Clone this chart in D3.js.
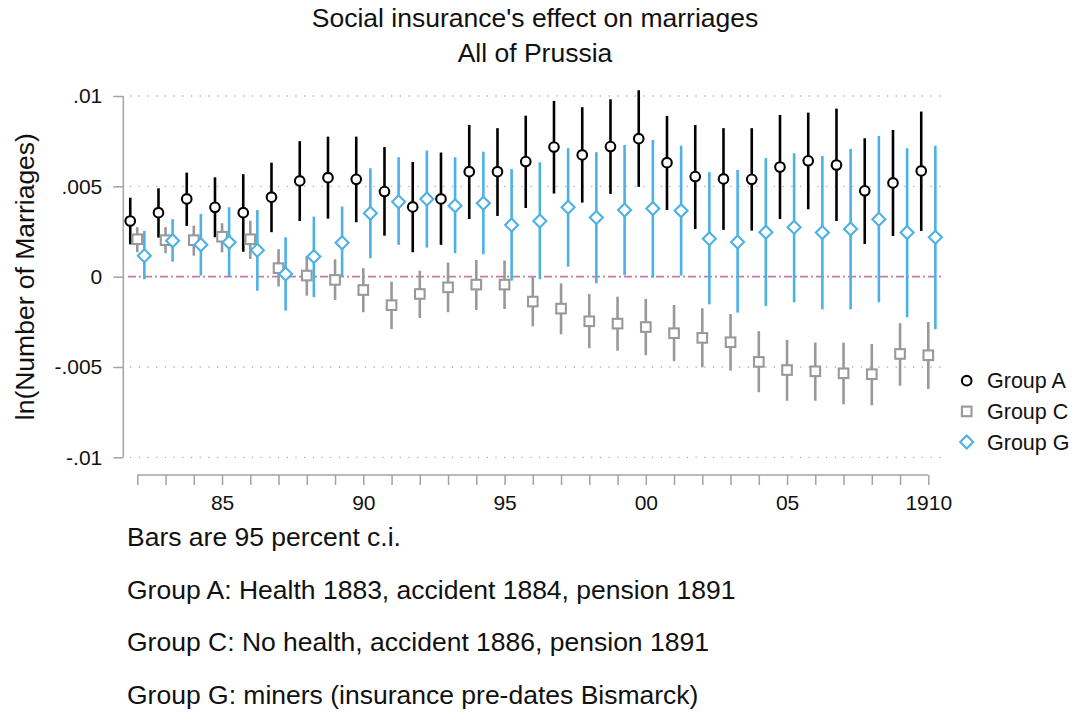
<!DOCTYPE html>
<html>
<head>
<meta charset="utf-8">
<script src="https://cdn.jsdelivr.net/npm/d3@7"></script>
<style>
  body { margin: 0; background: #fff; }
  svg { font-family: "Liberation Sans", Arial, sans-serif; }
</style>
</head>
<body>
<div id="chart"></div>
<script>
// years and estimates (in units of 0.001)
const years = d3.range(1882, 1911);

const groupA = [3.08, 3.54, 4.30, 3.84, 3.54, 4.40, 5.30, 5.48, 5.39, 4.71, 3.86, 4.30, 5.81, 5.81, 6.37,
    7.17, 6.74, 7.20, 7.64, 6.31, 5.54, 5.41, 5.39, 6.07, 6.41, 6.18, 4.75, 5.19, 5.85];
const groupA_lo = [1.79, 2.16, 2.81, 2.18, 1.38, 2.46, 3.08, 3.21, 3.01, 2.27, 1.35, 1.76, 3.19, 3.36, 3.80,
    4.60, 4.10, 4.58, 4.97, 3.69, 2.64, 2.59, 2.55, 3.19, 3.73, 3.08, 1.81, 2.25, 2.53];
const groupA_hi = [4.37, 4.89, 5.76, 5.50, 5.67, 6.31, 7.50, 7.75, 7.75, 7.17, 6.35, 6.87, 8.40, 8.22, 8.91,
    9.73, 9.38, 9.82, 10.32, 8.90, 8.40, 8.22, 8.22, 8.95, 9.08, 9.30, 7.66, 8.12, 9.14];

const groupC = [2.07, 2.02, 2.02, 2.21, 2.07, 0.47, 0.06, -0.18, -0.74, -1.58, -0.96, -0.59, -0.44, -0.44, -1.38,
    -1.77, -2.47, -2.60, -2.79, -3.13, -3.39, -3.63, -4.72, -5.17, -5.24, -5.35, -5.40, -4.28, -4.35];
const groupC_lo = [1.35, 1.30, 1.16, 1.35, 0.98, -0.55, -1.05, -1.29, -1.97, -2.90, -2.29, -1.97, -1.84, -1.79, -2.75,
    -3.19, -3.96, -4.10, -4.35, -4.68, -5.02, -5.20, -6.40, -6.87, -6.87, -7.07, -7.12, -6.04, -6.22];
const groupC_hi = [2.74, 2.74, 2.82, 2.96, 3.10, 1.52, 1.15, 0.96, 0.47, -0.28, 0.33, 0.78, 0.92, 0.89, -0.03,
    -0.37, -0.97, -1.11, -1.23, -1.57, -1.75, -2.07, -3.02, -3.50, -3.65, -3.65, -3.73, -2.58, -2.51];

const groupG = [1.16, 1.99, 1.77, 1.90, 1.46, 0.15, 1.11, 1.88, 3.51, 4.15, 4.30, 3.93, 4.06, 2.86, 3.08,
    3.84, 3.27, 3.69, 3.77, 3.65, 2.10, 1.92, 2.46, 2.74, 2.44, 2.64, 3.18, 2.44, 2.18];
const groupG_lo = [-0.14, 0.83, 0.06, 0.00, -0.78, -1.88, -1.14, 0.00, 1.02, 1.76, 1.61, 1.30, 1.24, -0.22, -0.14,
    0.55, -0.37, 0.08, -0.06, 0.06, -1.53, -1.99, -1.62, -1.42, -1.81, -1.81, -1.42, -2.25, -2.91];
const groupG_hi = [2.53, 3.18, 3.47, 3.84, 3.69, 2.18, 3.32, 3.88, 6.00, 6.61, 6.98, 6.61, 6.92, 5.96, 6.33,
    7.11, 6.89, 7.29, 7.57, 7.25, 5.78, 5.91, 6.56, 6.83, 6.68, 7.07, 7.79, 7.11, 7.25];

const yTicks = [-0.01, -0.005, 0, 0.005, 0.01];
const yTickLabels = ["-.01", "-.005", "0", ".005", ".01"];
const xTicks = [1885, 1890, 1895, 1900, 1905, 1910];
const xTickLabels = ["85", "90", "95", "00", "05", "1910"];

const notes = [
    "Bars are 95 percent c.i.",
    "Group A: Health 1883, accident 1884, pension 1891",
    "Group C: No health, accident 1886, pension 1891",
    "Group G: miners (insurance pre-dates Bismarck)"
];

const width = 1073, height = 715;
const axisColor = "#a3a3a3";

const svg = d3.select("#chart").append("svg")
    .attr("width", width)
    .attr("height", height);

const x = d3.scaleLinear().domain([1882, 1910]).range([137.3, 928.3]);
const y = d3.scaleLinear().domain([-0.01, 0.01]).range([457.3, 96]);

// titles
svg.append("text").attr("x", 535).attr("y", 27).attr("text-anchor", "middle")
    .attr("font-size", 26.5).attr("fill", "#111").text("Social insurance's effect on marriages");
svg.append("text").attr("x", 535).attr("y", 62).attr("text-anchor", "middle")
    .attr("font-size", 26.5).attr("fill", "#111").text("All of Prussia");

// y title
svg.append("text")
    .attr("transform", "translate(34," + y(0) + ") rotate(-90)")
    .attr("text-anchor", "middle")
    .attr("font-size", 26.5).attr("fill", "#111")
    .text("ln(Number of Marriages)");

// gridlines
svg.selectAll(".grid")
    .data(yTicks.filter(d => d !== 0))
    .enter().append("line")
    .attr("x1", 130).attr("x2", 942)
    .attr("y1", d => y(d)).attr("y2", d => y(d))
    .attr("stroke", "#b0b0b0").attr("stroke-width", 1.3)
    .attr("stroke-dasharray", "1.3,7.4");

// zero reference line
svg.append("line")
    .attr("x1", 128).attr("x2", 943)
    .attr("y1", y(0)).attr("y2", y(0))
    .attr("stroke", "#c77aa8").attr("stroke-width", 1.6)
    .attr("stroke-dasharray", "8,3,2,3");

// y axis
const yAxis = svg.append("g")
    .attr("transform", "translate(123.3,0)")
    .call(d3.axisLeft(y).tickValues(yTicks).tickSize(10).tickPadding(11)
        .tickFormat((d, i) => yTickLabels[i]));
yAxis.select(".domain").attr("stroke", axisColor).attr("stroke-width", 1.5)
    .attr("d", "M0," + y(0.01) + "V" + y(-0.01));
yAxis.selectAll(".tick line").attr("stroke", axisColor).attr("stroke-width", 1.5);
yAxis.selectAll(".tick text").attr("font-size", 21).attr("fill", "#111")
    .attr("font-family", "Liberation Sans, Arial, sans-serif");

// x axis
const xAxis = svg.append("g")
    .attr("transform", "translate(0,475)")
    .call(d3.axisBottom(x).tickValues(years).tickSize(10).tickPadding(10)
        .tickFormat(d => {
            const i = xTicks.indexOf(d);
            return i >= 0 ? xTickLabels[i] : "";
        }));
xAxis.select(".domain").attr("stroke", axisColor).attr("stroke-width", 1.5)
    .attr("d", "M" + x(1882) + ",0H" + x(1910));
xAxis.selectAll(".tick line").attr("stroke", axisColor).attr("stroke-width", 1.5);
xAxis.selectAll(".tick text").attr("font-size", 21).attr("fill", "#111")
    .attr("font-family", "Liberation Sans, Arial, sans-serif");

// series
const series = [
    { name: "Group A", est: groupA, lo: groupA_lo, hi: groupA_hi, color: "#000000", shift: -0.25, shape: "circle" },
    { name: "Group C", est: groupC, lo: groupC_lo, hi: groupC_hi, color: "#999999", shift: 0, shape: "square" },
    { name: "Group G", est: groupG, lo: groupG_lo, hi: groupG_hi, color: "#4cb1e4", shift: 0.25, shape: "diamond" }
];

function drawMarker(g, shape, color, cx, cy) {
    if (shape === "circle") {
        g.append("circle").attr("cx", cx).attr("cy", cy).attr("r", 4.8)
            .attr("fill", "white").attr("stroke", color).attr("stroke-width", 2.1);
    } else if (shape === "square") {
        g.append("rect").attr("x", cx - 4.8).attr("y", cy - 4.8).attr("width", 9.6).attr("height", 9.6)
            .attr("fill", "white").attr("stroke", color).attr("stroke-width", 2.1);
    } else {
        const r = 6.5;
        g.append("path")
            .attr("d", `M${cx},${cy - r}L${cx + r},${cy}L${cx},${cy + r}L${cx - r},${cy}Z`)
            .attr("fill", "white").attr("stroke", color).attr("stroke-width", 2.1);
    }
}

// bars then markers, per series
series.forEach(s => {
    svg.append("g").selectAll("line")
        .data(years)
        .enter().append("line")
        .attr("x1", (d) => x(d + s.shift))
        .attr("x2", (d) => x(d + s.shift))
        .attr("y1", (d, i) => y(s.lo[i] / 1000))
        .attr("y2", (d, i) => y(s.hi[i] / 1000))
        .attr("stroke", s.color)
        .attr("stroke-width", 2.6);
    const g = svg.append("g");
    years.forEach((d, i) => drawMarker(g, s.shape, s.color, x(d + s.shift), y(s.est[i] / 1000)));
});

// legend
const legend = svg.append("g");
series.forEach((s, i) => {
    const ly = 380.7 + i * 30.7;
    drawMarker(legend, s.shape, s.color, 966.7, ly);
    legend.append("text").attr("x", 987).attr("y", ly + 7.5)
        .attr("font-size", 21.5).attr("fill", "#111").text(s.name);
});

// notes
svg.selectAll(".note")
    .data(notes)
    .enter().append("text")
    .attr("x", 127)
    .attr("y", (d, i) => 546 + i * 52.5)
    .attr("font-size", 26.5)
    .attr("fill", "#111")
    .text(d => d);
</script>
</body>
</html>
